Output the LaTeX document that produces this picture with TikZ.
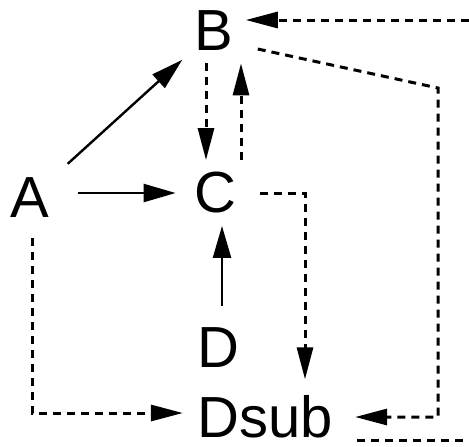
\documentclass[tikz,border=0pt]{standalone}
\usepackage{fontspec}
\setmainfont{Liberation Sans}
\usetikzlibrary{arrows.meta}

\begin{document}
\begin{tikzpicture}[x=0.5pt,y=-0.5pt,
  letter/.style={inner sep=6pt,font=\fontsize{29}{31}\selectfont},
  solidarrow/.style={line width=1.2pt,-{Triangle[length=16pt,width=9pt]}},
  dasharrow/.style={line width=1.5pt,dash pattern=on 4pt off 3pt,-{Triangle[length=16pt,width=8pt]}},
  dashline/.style={line width=1.5pt,dash pattern=on 4pt off 3pt}]
\useasboundingbox (0,0) rectangle (469,446);
\node[letter] (A) at (30,198) {A};
\node[letter] (B) at (214,31) {B};
\node[letter] (C) at (215,193) {C};
\node[letter] (D) at (218,348) {D};
\node[letter,inner sep=2pt] (Dsub) at (265,417) {Dsub};
\coordinate (topin) at (469,20);
\coordinate (bend) at (438,88);
\coordinate (botout) at (469,440);
% solid arrows
\draw[solidarrow,shorten <=4pt] (A) -- (B);
\draw[solidarrow,shorten <=8pt,shorten >=3pt] (A.east |- C.west) -- (C.west);
\draw[solidarrow,shorten <=5pt] ([xshift=2pt]D.north) -- ([xshift=2pt]D.north |- C.south);
% dashed arrows
\draw[dasharrow] ([xshift=-4pt]B.south) -- ([xshift=-4pt]B.south |- C.north);
\draw[dasharrow] ([xshift=13pt]C.north) -- ([xshift=13pt]C.north |- B.south);
\draw[dasharrow] (topin) -- (topin -| B.east);
\draw[dasharrow,shorten >=9pt] ([xshift=6pt,yshift=-9pt]B.east) -- (bend) |- ([yshift=0pt]Dsub.east);
\draw[dasharrow,shorten <=6pt,shorten >=6pt] (C.east) -| ([xshift=20pt]Dsub.north);
\draw[dasharrow,shorten >=5pt] ([xshift=1pt,yshift=-4pt]A.south) |- ([yshift=2pt]Dsub.west);
\draw[dashline] ([xshift=10pt]Dsub.south east |- botout) -- (botout);
\end{tikzpicture}
\end{document}
